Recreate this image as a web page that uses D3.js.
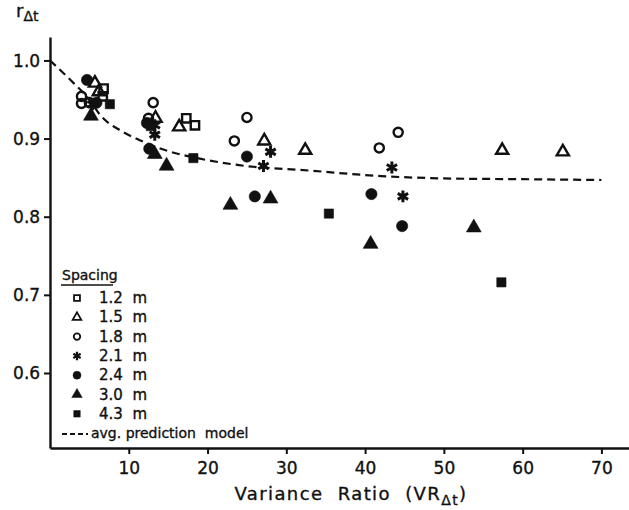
<!DOCTYPE html>
<html>
<head>
<meta charset="utf-8">
<script src="https://cdn.jsdelivr.net/npm/d3@7"></script>
<style>
  body { margin: 0; background: #fff; }
  text { font-family: "DejaVu Sans", sans-serif; fill: #111; stroke: #111; stroke-width: 0.35px; }
</style>
</head>
<body>
<script>
// spacing series
var sq12x = [6.8, 6.7, 17.3, 18.4]
var sq12y = [0.964, 0.954, 0.926, 0.917]
var tri15x = [5.7, 6.2, 13.4, 16.4, 27.2, 32.4, 57.4, 65.1]
var tri15y = [0.971, 0.960, 0.926, 0.915, 0.897, 0.885, 0.885, 0.883]
var circ18x = [4.0, 4.0, 5.0, 12.5, 13.1, 23.4, 25.0, 41.8, 44.2]
var circ18y = [0.954, 0.945, 0.946, 0.926, 0.946, 0.897, 0.927, 0.888, 0.908]
var star21x = [5.4, 13.3, 13.3, 27.1, 28.0, 43.4, 44.8]
var star21y = [0.944, 0.917, 0.905, 0.865, 0.883, 0.863, 0.826]
var dot24x = [4.7, 5.9, 12.3, 12.6, 25.0, 26.0, 40.8, 44.7]
var dot24y = [0.975, 0.946, 0.920, 0.887, 0.877, 0.826, 0.829, 0.788]
var ftri30x = [5.2, 13.3, 14.8, 22.9, 28.0, 40.7, 53.8]
var ftri30y = [0.929, 0.880, 0.865, 0.815, 0.823, 0.765, 0.786]
var fsq43x = [7.6, 12.8, 18.2, 35.4, 57.3]
var fsq43y = [0.944, 0.916, 0.875, 0.804, 0.716]

// avg. prediction model curve
var modelX = [0, 3, 5, 6.3, 9, 11.4, 15, 18.2, 24, 33, 42, 50, 60, 70]
var modelY = [1.0, 0.971, 0.950, 0.931, 0.910, 0.898, 0.884, 0.876, 0.866, 0.859, 0.852, 0.849, 0.848, 0.847]

var xTicks = [10, 20, 30, 40, 50, 60, 70]
var yTicks = [0.6, 0.7, 0.8, 0.9, 1.0]
var legendLabels = ["1.2  m", "1.5  m", "1.8  m", "2.1  m", "2.4  m", "3.0  m", "4.3  m"]

var W = 629, H = 510

var svg = d3.select("body").append("svg")
    .attr("width", W)
    .attr("height", H)

var x = d3.scaleLinear().domain([0, 73.5]).range([50, 629])
var y = d3.scaleLinear().domain([0.504, 1.03]).range([448, 37])

// axes
var xAxis = svg.append("g")
    .attr("transform", "translate(0,448)")
    .call(d3.axisBottom(x).tickValues(xTicks).tickFormat(d3.format("d")).tickSize(6).tickSizeOuter(0))
var yAxis = svg.append("g")
    .attr("transform", "translate(50,0)")
    .call(d3.axisLeft(y).tickValues(yTicks).tickFormat(d3.format(".1f")).tickSize(6).tickSizeOuter(0))

svg.selectAll(".domain").attr("stroke", "#111").attr("stroke-width", 2.4)
svg.selectAll(".tick line").attr("stroke", "#111").attr("stroke-width", 2)
xAxis.selectAll(".tick text").attr("font-size", 17).attr("dy", "1.0em")
yAxis.selectAll(".tick text").attr("font-size", 17).attr("dx", "-0.05em").attr("dy", "0.35em")
svg.selectAll(".tick text").style("font-family", "DejaVu Sans, sans-serif")
    .attr("fill", "#111").attr("stroke", "#111").attr("stroke-width", 0.4)

// axis titles
var xt = svg.append("text")
    .attr("x", 351).attr("y", 500)
    .attr("text-anchor", "middle")
    .attr("font-size", 18)
    .attr("letter-spacing", 1.4)
    .style("white-space", "pre")
xt.append("tspan").text("Variance  Ratio  (VR")
xt.append("tspan").attr("font-size", 14).attr("dy", 5).text("Δt")
xt.append("tspan").attr("dy", -5).text(")")

var yt = svg.append("text").attr("x", 16).attr("y", 17).attr("font-size", 18)
yt.append("tspan").text("r")
yt.append("tspan").attr("font-size", 14).attr("dy", 4).text("Δt")

// model curve
var line = d3.line()
    .x(function(d){ return x(d[0]) })
    .y(function(d){ return y(d[1]) })
    .curve(d3.curveMonotoneX)

svg.append("path")
    .datum(d3.zip(modelX, modelY))
    .attr("d", line)
    .attr("fill", "none")
    .attr("stroke", "#111")
    .attr("stroke-width", 2.2)
    .attr("stroke-dasharray", "8,5")

// series
var series = [
  {xs: sq12x, ys: sq12y, type: d3.symbolSquare, size: 70, filled: false},
  {xs: tri15x, ys: tri15y, type: d3.symbolTriangle, size: 64, filled: false},
  {xs: circ18x, ys: circ18y, type: d3.symbolCircle, size: 66, filled: false},
  {xs: star21x, ys: star21y, type: d3.symbolAsterisk, size: 100, filled: false, star: true},
  {xs: dot24x, ys: dot24y, type: d3.symbolCircle, size: 100, filled: true},
  {xs: ftri30x, ys: ftri30y, type: d3.symbolTriangle, size: 95, filled: true},
  {xs: fsq43x, ys: fsq43y, type: d3.symbolSquare, size: 85, filled: true}
]

series.forEach(function(s){
  var pts = d3.zip(s.xs, s.ys)
  svg.append("g").selectAll("path")
    .data(pts)
    .enter()
    .append("path")
    .attr("transform", function(d){ return "translate(" + x(d[0]) + "," + y(d[1]) + ")" })
    .attr("d", d3.symbol().type(s.type).size(s.size))
    .attr("fill", s.filled ? "#111" : "none")
    .attr("stroke", "#111")
    .attr("stroke-width", s.star ? 3 : (s.filled ? 0.6 : 2.4))
})

// legend
svg.append("text").attr("x", 62).attr("y", 280).attr("font-size", 14).text("Spacing")
svg.append("line")
    .attr("x1", 61).attr("x2", 113).attr("y1", 285).attr("y2", 285)
    .attr("stroke", "#111").attr("stroke-width", 1.6)

series.forEach(function(s, i){
  var ly = 298 + i * 19.3
  svg.append("path")
    .attr("transform", "translate(77," + ly + ")")
    .attr("d", d3.symbol().type(s.type).size(s.size * 0.5))
    .attr("fill", s.filled ? "#111" : "none")
    .attr("stroke", "#111")
    .attr("stroke-width", s.star ? 2.2 : (s.filled ? 0.5 : 1.8))
  svg.append("text")
    .attr("x", 99).attr("y", ly + 5)
    .attr("font-size", 15)
    .style("white-space", "pre")
    .text(legendLabels[i])
})

svg.append("line")
    .attr("x1", 62).attr("x2", 88).attr("y1", 434).attr("y2", 434)
    .attr("stroke", "#111").attr("stroke-width", 2)
    .attr("stroke-dasharray", "5,3")
svg.append("text").attr("x", 91).attr("y", 438).attr("font-size", 14)
    .style("white-space", "pre")
    .text("avg. prediction  model")
</script>
</body>
</html>
